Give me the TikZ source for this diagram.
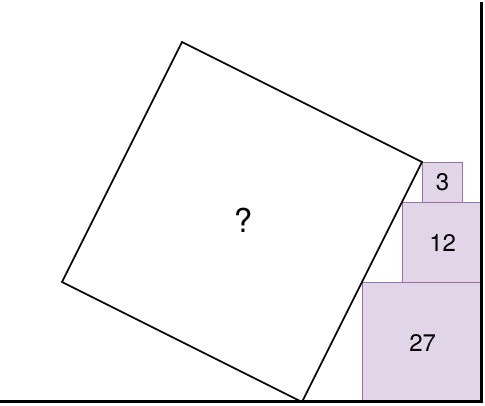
\documentclass[tikz,border=0pt]{standalone}
\usepackage{fontspec}
\setmainfont{TeX Gyre Heros}
\definecolor{pfill}{HTML}{E1D5E7}
\definecolor{pdraw}{HTML}{9673A6}
\begin{document}
\begin{tikzpicture}[x=1pt,y=-1pt,
  purplebox/.style={draw=pdraw,fill=pfill,line width=1.2pt,anchor=north west,inner sep=0pt,font=\fontsize{24}{24}\selectfont},
  tilted/.style={draw=black,line width=1.7pt,line join=miter},
  frameline/.style={draw=black,line width=3pt,line join=miter}]
\useasboundingbox (0,0) rectangle (485,405);
% purple squares
\node[purplebox,minimum width=120pt,minimum height=120pt] (big) at (362,282) {27};
\node[purplebox,minimum width=80pt,minimum height=80pt] (mid) at (402,202) {12};
\node[purplebox,minimum width=40pt,minimum height=40pt] (small) at (422,162) {3};
% tilted square
\coordinate (B) at (302,402);
\coordinate (R) at (422,162);
\coordinate (T) at (182,42);
\coordinate (L) at (62,282);
\draw[tilted] (B) -- (R) -- (T) -- (L) -- cycle;
\node[font=\fontsize{33}{33}\selectfont] (q) at (243,220) {?};
% wall and ground
\coordinate (walltop) at (481.5,2);
\coordinate (corner) at (481.5,401.5);
\coordinate (groundleft) at (0,401.5);
\draw[frameline] (walltop) -- (corner) -- (groundleft);
\end{tikzpicture}
\end{document}
